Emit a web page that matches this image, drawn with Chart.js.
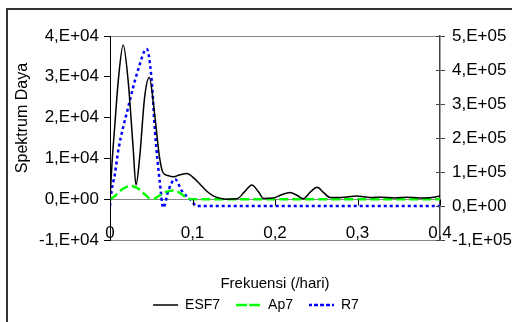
<!DOCTYPE html>
<html>
<head>
<meta charset="utf-8">
<script src="https://cdn.jsdelivr.net/npm/chart.js@4"></script>
<style>
  html, body { margin: 0; padding: 0; background: #fff; }
  canvas { display: block; }
</style>
</head>
<body>
<canvas id="chart" width="512" height="322"></canvas>
<script>
// ESF7 (left axis)
const freqESF = [0, 0.0024, 0.006, 0.010, 0.016, 0.022, 0.028, 0.0315, 0.036, 0.042, 0.0476, 0.054, 0.060, 0.064,
  0.070, 0.077, 0.085, 0.093, 0.101, 0.109, 0.117, 0.125, 0.134, 0.142, 0.154, 0.163, 0.172, 0.180, 0.186,
  0.198, 0.208, 0.218, 0.227, 0.234, 0.243, 0.251, 0.259, 0.267, 0.280, 0.299, 0.315, 0.330, 0.345, 0.360,
  0.375, 0.390, 0.400];
const valESF = [0, 8700, 18600, 29000, 37800, 29000, 12700, 3500, 10300, 25000, 29800, 21000, 10300, 6600,
  5800, 5500, 6000, 6300, 5300, 3700, 2000, 800, 200, 0, 100, 1800, 3500, 1800, 200,
  300, 1100, 1650, 900, 100, 1800, 2900, 1600, 400, 400, 800, 400, 500, 300, 500,
  300, 400, 800];

// Ap7 (left axis)
const freqAp = [0, 0.006, 0.012, 0.019, 0.027, 0.035, 0.042, 0.048, 0.053, 0.060, 0.068, 0.077, 0.085, 0.093,
  0.100, 0.200, 0.300, 0.400];
const valAp = [0, 800, 2000, 2900, 3200, 2500, 1200, 200, 100, 900, 1800, 2150, 1500, 300,
  0, 0, 0, 0];

// R7 (right axis)
const freqR = [0, 0.002, 0.006, 0.010, 0.022, 0.034, 0.0445, 0.0505, 0.0545, 0.0606, 0.0646, 0.0707, 0.0788,
  0.087, 0.099, 0.105, 0.200, 0.300, 0.400];
const valR = [0, 45000, 95000, 163000, 290000, 400000, 462000, 370000, 220000, 65000, -5000, 45000, 79000,
  45000, 15000, 0, 0, 0, 0];

const leftTicks = { min: -10000, max: 40000, step: 10000 };
const rightTicks = { min: -100000, max: 500000, step: 100000 };

function sci(v) {
  if (v === 0) return '0,E+00';
  const e = Math.floor(Math.log10(Math.abs(v)));
  const m = Math.round(v / Math.pow(10, e));
  return m + ',E+' + String(e).padStart(2, '0');
}

function pts(xs, ys) {
  return xs.map((x, i) => ({ x: x, y: ys[i] }));
}

const FONT = "'Liberation Sans', Arial, sans-serif";

const frame = {
  id: 'frame',
  beforeDraw(chart) {
    const ctx = chart.ctx;
    ctx.save();
    ctx.fillStyle = '#fff';
    ctx.fillRect(0, 0, chart.width, chart.height);
    ctx.strokeStyle = '#333';
    ctx.lineWidth = 2;
    ctx.beginPath();
    ctx.moveTo(7, chart.height);
    ctx.lineTo(7, 9);
    ctx.lineTo(chart.width, 9);
    ctx.stroke();
    ctx.restore();
  },
  afterDraw(chart) {
    const ctx = chart.ctx;
    const { x, y, y1 } = chart.scales;
    ctx.save();
    // small x ticks hanging off the zero line
    ctx.strokeStyle = '#000';
    ctx.lineWidth = 1;
    const y0 = Math.round(y.getPixelForValue(0)) + 0.5;
    x.ticks.forEach(t => {
      const px = Math.round(x.getPixelForValue(t.value)) + 0.5;
      ctx.beginPath();
      ctx.moveTo(px, y0);
      ctx.lineTo(px, y0 + 6);
      ctx.stroke();
    });
    // inner half of the right axis ticks
    ctx.strokeStyle = '#444';
    y1.ticks.forEach(t => {
      const py = Math.round(y1.getPixelForValue(t.value)) + 0.5;
      ctx.beginPath();
      ctx.moveTo(y1.left - 4, py);
      ctx.lineTo(y1.left, py);
      ctx.stroke();
    });
    // y axis title
    ctx.fillStyle = '#000';
    ctx.font = '16px ' + FONT;
    ctx.textAlign = 'center';
    ctx.textBaseline = 'middle';
    ctx.translate(23, 118);
    ctx.rotate(-Math.PI / 2);
    ctx.fillText('Spektrum Daya', 0, 0);
    ctx.restore();
  }
};

new Chart(document.getElementById('chart'), {
  type: 'line',
  data: {
    datasets: [
      {
        label: 'ESF7',
        data: pts(freqESF, valESF),
        yAxisID: 'y',
        borderColor: '#000',
        backgroundColor: '#000',
        borderWidth: 1.5
      },
      {
        label: 'Ap7',
        data: pts(freqAp, valAp),
        yAxisID: 'y',
        borderColor: '#00ff00',
        backgroundColor: '#00ff00',
        borderWidth: 2.5,
        borderDash: [9, 4]
      },
      {
        label: 'R7',
        data: pts(freqR, valR),
        yAxisID: 'y1',
        borderColor: '#0000ff',
        backgroundColor: '#0000ff',
        borderWidth: 2.5,
        borderDash: [3, 3]
      }
    ]
  },
  options: {
    responsive: false,
    animation: false,
    devicePixelRatio: 1,
    layout: { padding: { left: 0, right: 0, top: 36, bottom: 0 } },
    elements: {
      point: { radius: 0 },
      line: { cubicInterpolationMode: 'monotone' }
    },
    plugins: {
      legend: {
        position: 'bottom',
        labels: {
          boxWidth: 25,
          boxHeight: 0,
          padding: 16,
          color: '#000',
          font: { family: FONT, size: 14 }
        }
      },
      tooltip: { enabled: false }
    },
    scales: {
      x: {
        type: 'linear',
        min: 0,
        max: 0.4,
        border: { color: '#888', width: 1 },
        grid: { drawOnChartArea: false, drawTicks: false },
        ticks: {
          stepSize: 0.1,
          mirror: true,
          padding: -4,
          maxRotation: 0,
          color: '#000',
          font: { family: FONT, size: 17 },
          callback: v => v === 0 ? '0' : v.toFixed(1).replace('.', ',')
        },
        title: {
          display: true,
          text: 'Frekuensi (/hari)',
          color: '#000',
          font: { family: FONT, size: 15 },
          padding: { top: 0, bottom: -11 }
        },
        afterFit: s => { s.height = 42; }
      },
      y: {
        position: 'left',
        min: leftTicks.min,
        max: leftTicks.max,
        border: { color: '#000', width: 1 },
        grid: {
          color: c => (c.tick.value === 0 || c.tick.value === leftTicks.max) ? '#888' : 'transparent',
          tickColor: '#000',
          tickLength: 6
        },
        ticks: {
          stepSize: leftTicks.step,
          padding: 5,
          color: '#000',
          font: { family: FONT, size: 17 },
          callback: v => sci(v)
        },
        afterFit: s => { s.width = 110; }
      },
      y1: {
        position: 'right',
        min: rightTicks.min,
        max: rightTicks.max,
        border: { color: '#444', width: 1.5 },
        grid: { drawOnChartArea: false, tickColor: '#444', tickLength: 5 },
        ticks: {
          stepSize: rightTicks.step,
          padding: 7,
          color: '#000',
          font: { family: FONT, size: 17 },
          callback: v => sci(v)
        },
        afterFit: s => { s.width = 72; }
      }
    }
  },
  plugins: [frame]
});
</script>
</body>
</html>
